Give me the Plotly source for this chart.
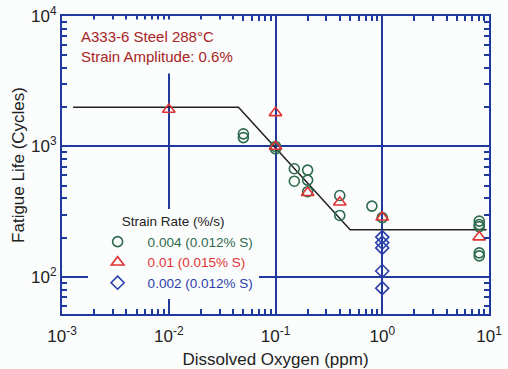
import plotly.graph_objects as go

# ---- data ----
green_x = [0.05, 0.05, 0.1, 0.1, 0.15, 0.15, 0.2, 0.2, 0.2, 0.4, 0.4, 0.8, 1.0, 8.1, 8.1, 8.1, 8.1, 8.1]
green_y = [1250, 1170, 1000, 960, 675, 542, 659, 552, 450, 421, 296, 349, 285, 268, 252, 243, 153, 145]
red_x = [0.01, 0.1, 0.1, 0.2, 0.4, 1.0, 8.1]
red_y = [1920, 1810, 1000, 442, 374, 287, 202]
blue_x = [1.0, 1.0, 1.0, 1.0, 1.0]
blue_y = [202, 183, 167, 111, 82]
fit_x = [0.00127, 0.045, 0.5, 9.5]
fit_y = [2000, 2000, 230, 230]
series_names = ["0.004 (0.012% S)", "0.01 (0.015% S)", "0.002 (0.012% S)"]
x_tickvals = [1e-3, 1e-2, 1e-1, 1, 10]
x_ticktext = ["10<sup>-3</sup>", "10<sup>-2</sup>", "10<sup>-1</sup>", "10<sup>0</sup>", "10<sup>1</sup>"]
y_tickvals = [100, 1000, 10000]
y_ticktext = ["10<sup>2</sup>", "10<sup>3</sup>", "10<sup>4</sup>"]
x_minor = [m * d for d in [1e-3, 1e-2, 1e-1, 1] for m in range(2, 10)]
y_minor = [m * d for d in [10, 100, 1000] for m in range(2, 10)]

GREEN = "#2d6a4e"
RED = "#e03434"
BLUE = "#2a3fa8"
AXIS = "#1f3a9c"
BG = "#fbfcfc"
FONT = "Liberation Sans, Arial"
XR = [-3, 1]
YR = [1.716, 4]

fig = go.Figure()
fig.add_trace(go.Scatter(x=fit_x, y=fit_y, mode="lines", line=dict(color="#222222", width=1.5),
                         showlegend=False, hoverinfo="skip"))
fig.add_trace(go.Scatter(x=green_x, y=green_y, mode="markers",
                         name=f'<span style="color:{GREEN}">{series_names[0]}</span>',
                         marker=dict(symbol="circle-open", size=10, color=GREEN, line=dict(width=1.6))))
fig.add_trace(go.Scatter(x=red_x, y=red_y, mode="markers",
                         name=f'<span style="color:{RED}">{series_names[1]}</span>',
                         marker=dict(symbol="triangle-up-open", size=11, color=RED, line=dict(width=1.6))))
fig.add_trace(go.Scatter(x=blue_x, y=blue_y, mode="markers",
                         name=f'<span style="color:{BLUE}">{series_names[2]}</span>',
                         marker=dict(symbol="diamond-open", size=10, color=BLUE, line=dict(width=1.6))))

fig.update_xaxes(
    type="log", range=XR, tickmode="array", tickvals=x_tickvals, ticktext=x_ticktext,
    showline=True, linecolor=AXIS, linewidth=2, mirror="allticks",
    ticks="inside", ticklen=8, tickwidth=2, tickcolor=AXIS,
    showgrid=True, gridcolor=AXIS, gridwidth=1.5, zeroline=False,
    minor=dict(tickmode="array", tickvals=x_minor, ticks="inside", ticklen=5, tickwidth=1.5,
               tickcolor=AXIS, showgrid=False),
    tickfont=dict(family=FONT, size=17, color="#222222"), ticklabelstandoff=6, automargin=False,
    title=dict(text="Dissolved Oxygen (ppm)", font=dict(family=FONT, size=17, color="#222222"), standoff=14),
)
fig.update_yaxes(
    type="log", range=YR, tickmode="array", tickvals=y_tickvals, ticktext=y_ticktext,
    showline=True, linecolor=AXIS, linewidth=2, mirror="allticks",
    ticks="inside", ticklen=8, tickwidth=2, tickcolor=AXIS,
    showgrid=True, gridcolor=AXIS, gridwidth=1.5, zeroline=False,
    minor=dict(tickmode="array", tickvals=y_minor, ticks="inside", ticklen=5, tickwidth=1.5,
               tickcolor=AXIS, showgrid=False),
    tickfont=dict(family=FONT, size=17, color="#222222"), automargin=False,
    title=dict(text="Fatigue Life (Cycles)", font=dict(family=FONT, size=17, color="#222222"), standoff=2),
)

fig.add_annotation(xref="paper", yref="paper", x=0.023, y=0.99, xanchor="left", yanchor="top",
                   text="A333-6 Steel 288°C<br>Strain Amplitude: 0.6%", align="left", showarrow=False,
                   font=dict(family=FONT, size=15, color="#a82424"),
                   bgcolor=BG, borderpad=8)

fig.update_layout(
    width=508, height=369,
    margin=dict(l=62, r=19, t=16, b=55),
    paper_bgcolor=BG, plot_bgcolor=BG,
    font=dict(family=FONT, size=13, color="#222222"),
    legend=dict(x=0.06, y=0.353, xanchor="left", yanchor="top", bgcolor=BG,
                title=dict(text="Strain Rate (%/s)", side="top center",
                           font=dict(family=FONT, size=13.5, color="#222222")),
                font=dict(family=FONT, size=13.5), tracegroupgap=0, itemwidth=50),
)

fig.write_html("out.html")
